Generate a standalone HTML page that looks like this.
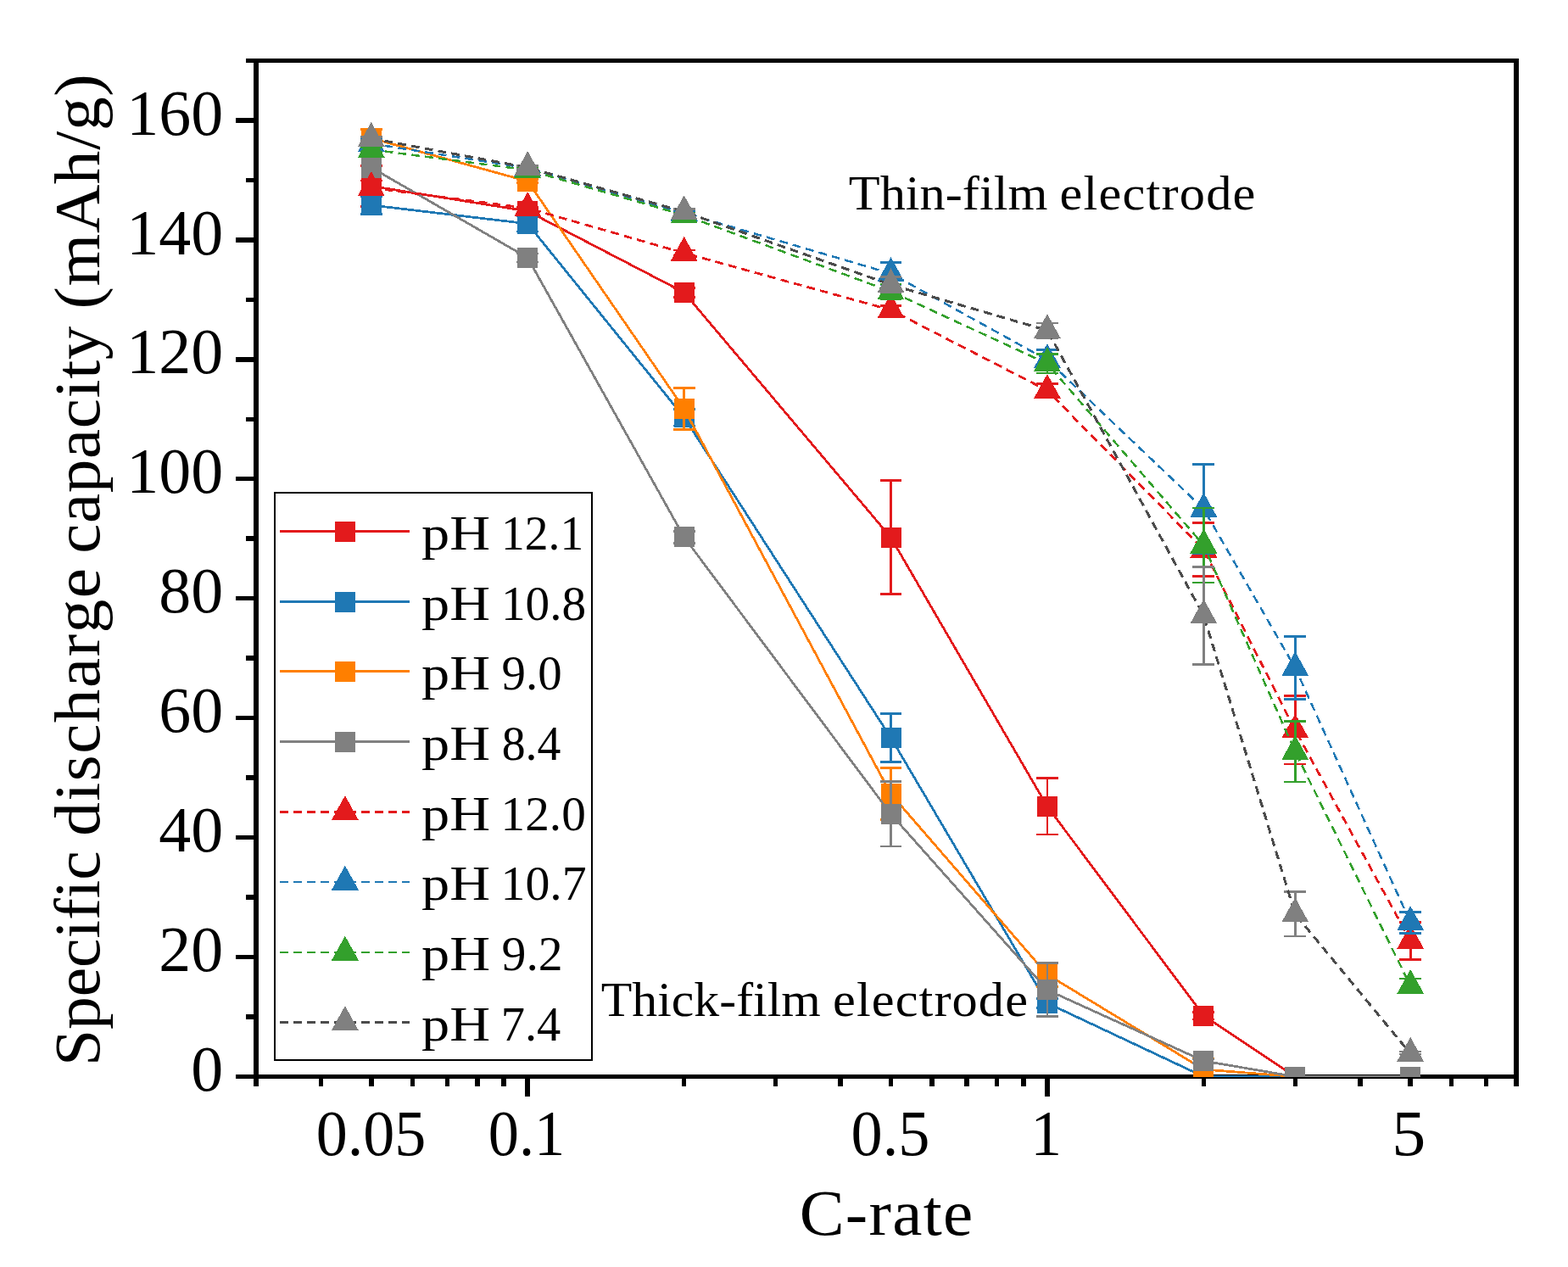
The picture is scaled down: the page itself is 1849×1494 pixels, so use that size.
<!DOCTYPE html>
<html lang="en"><head><meta charset="utf-8"><title>Specific discharge capacity vs C-rate</title>
<style>html,body{margin:0;padding:0;background:#fff}body{width:1849px;height:1494px;overflow:hidden}</style></head>
<body>
<svg width="1849" height="1494" viewBox="0 0 1849 1494" font-family="'Liberation Serif', 'DejaVu Serif', serif" fill="#000" style="display:block;font-kerning:none;font-variant-ligatures:none">
<rect width="1849" height="1494" fill="#fff"/>
<defs><clipPath id="pc"><rect x="301.87" y="71.40" width="1486.40" height="1198.60"/></clipPath></defs>
<g stroke="#000" stroke-width="5.5" fill="none" stroke-linecap="butt" shape-rendering="crispEdges">
<path d="M289.77 71.40H1791.27M277.97 1269.50H1791.27" stroke-width="5"/>
<path d="M301.87 68.90V1280.90M1788.27 68.90V1280.90" stroke-width="6"/>
<path d="M301.87 1199.02h-12.10M301.87 1128.55h-23.90M301.87 1058.07h-12.10M301.87 987.59h-23.90M301.87 917.12h-12.10M301.87 846.64h-23.90M301.87 776.16h-12.10M301.87 705.69h-23.90M301.87 635.21h-12.10M301.87 564.74h-23.90M301.87 494.26h-12.10M301.87 423.78h-23.90M301.87 353.31h-12.10M301.87 282.83h-23.90M301.87 212.35h-12.10M301.87 141.88h-23.90M378.42 1269.50v11.40M437.80 1269.50v11.40M486.31 1269.50v11.40M527.33 1269.50v11.40M562.86 1269.50v11.40M594.20 1269.50v11.40M622.24 1269.50v23.20M806.68 1269.50v11.40M914.57 1269.50v11.40M991.12 1269.50v11.40M1050.50 1269.50v11.40M1099.02 1269.50v11.40M1140.03 1269.50v11.40M1175.57 1269.50v11.40M1206.91 1269.50v11.40M1234.94 1269.50v23.20M1419.39 1269.50v11.40M1527.28 1269.50v11.40M1603.83 1269.50v11.40M1663.20 1269.50v11.40M1711.72 1269.50v11.40M1752.74 1269.50v11.40"/>
</g>
<g clip-path="url(#pc)" shape-rendering="crispEdges">
<g>
<path d="M437.80 243.36V195.44M424.90 243.36h25.8M424.90 195.44h25.8M622.24 253.93V244.07M609.34 253.93h25.8M609.34 244.07h25.8M806.68 350.49V339.21M793.78 350.49h25.8M793.78 339.21h25.8M1050.50 700.75V566.85M1037.60 700.75h25.8M1037.60 566.85h25.8M1234.94 984.07V917.82M1222.04 984.07h25.8M1222.04 917.82h25.8M1419.39 1201.98V1193.24M1406.49 1201.98h25.8M1406.49 1193.24h25.8" stroke="#E31A1C" stroke-width="2.8" fill="none"/>
<polyline points="437.80,219.40 622.24,249.00 806.68,344.85 1050.50,633.80 1234.94,950.95 1419.39,1197.61 1527.28,1269.50 1663.20,1269.50" stroke="#E31A1C" stroke-width="2.75" fill="none" stroke-linejoin="round"/>
<rect x="425.80" y="207.40" width="24" height="24" fill="#E31A1C"/>
<rect x="610.24" y="237.00" width="24" height="24" fill="#E31A1C"/>
<rect x="794.68" y="332.85" width="24" height="24" fill="#E31A1C"/>
<rect x="1038.50" y="621.80" width="24" height="24" fill="#E31A1C"/>
<rect x="1222.94" y="938.95" width="24" height="24" fill="#E31A1C"/>
<rect x="1407.39" y="1185.61" width="24" height="24" fill="#E31A1C"/>
<rect x="1515.28" y="1257.50" width="24" height="24" fill="#E31A1C"/>
<rect x="1651.20" y="1257.50" width="24" height="24" fill="#E31A1C"/>
</g>
<g>
<path d="M437.80 252.17V231.73M424.90 252.17h25.8M424.90 231.73h25.8M622.24 272.96V254.64M609.34 272.96h25.8M609.34 254.64h25.8M806.68 502.01V482.28M793.78 502.01h25.8M793.78 482.28h25.8M1050.50 898.30V841.50M1037.60 898.30h25.8M1037.60 841.50h25.8M1234.94 1188.10V1177.53M1222.04 1188.10h25.8M1222.04 1177.53h25.8" stroke="#1F78B4" stroke-width="2.8" fill="none"/>
<polyline points="437.80,241.95 622.24,263.80 806.68,492.14 1050.50,869.90 1234.94,1182.81 1419.39,1269.50 1527.28,1269.50 1663.20,1269.50" stroke="#1F78B4" stroke-width="2.75" fill="none" stroke-linejoin="round"/>
<rect x="425.80" y="229.95" width="24" height="24" fill="#1F78B4"/>
<rect x="610.24" y="251.80" width="24" height="24" fill="#1F78B4"/>
<rect x="794.68" y="480.14" width="24" height="24" fill="#1F78B4"/>
<rect x="1038.50" y="857.90" width="24" height="24" fill="#1F78B4"/>
<rect x="1222.94" y="1170.81" width="24" height="24" fill="#1F78B4"/>
<rect x="1407.39" y="1257.50" width="24" height="24" fill="#1F78B4"/>
<rect x="1515.28" y="1257.50" width="24" height="24" fill="#1F78B4"/>
<rect x="1651.20" y="1257.50" width="24" height="24" fill="#1F78B4"/>
</g>
<g>
<path d="M437.80 173.59V152.45M424.90 173.59h25.8M424.90 152.45h25.8M622.24 215.88V211.65M609.34 215.88h25.8M609.34 211.65h25.8M806.68 506.87V457.12M793.78 506.87h25.8M793.78 457.12h25.8M1050.50 966.45V905.84M1037.60 966.45h25.8M1037.60 905.84h25.8M1234.94 1163.22V1135.03M1222.04 1163.22h25.8M1222.04 1135.03h25.8M1419.39 1274.08V1248.00M1406.49 1274.08h25.8M1406.49 1248.00h25.8" stroke="#FF7F00" stroke-width="2.8" fill="none"/>
<polyline points="437.80,163.02 622.24,213.76 806.68,482.00 1050.50,936.15 1234.94,1149.13 1419.39,1261.04 1527.28,1269.50 1663.20,1269.50" stroke="#FF7F00" stroke-width="2.75" fill="none" stroke-linejoin="round"/>
<rect x="425.80" y="151.02" width="24" height="24" fill="#FF7F00"/>
<rect x="610.24" y="201.76" width="24" height="24" fill="#FF7F00"/>
<rect x="794.68" y="470.00" width="24" height="24" fill="#FF7F00"/>
<rect x="1038.50" y="924.15" width="24" height="24" fill="#FF7F00"/>
<rect x="1222.94" y="1137.13" width="24" height="24" fill="#FF7F00"/>
<rect x="1407.39" y="1249.04" width="24" height="24" fill="#FF7F00"/>
<rect x="1515.28" y="1257.50" width="24" height="24" fill="#FF7F00"/>
<rect x="1651.20" y="1257.50" width="24" height="24" fill="#FF7F00"/>
</g>
<g>
<path d="M622.24 309.05V298.90M609.34 309.05h25.8M609.34 298.90h25.8M806.68 640.15V626.47M793.78 640.15h25.8M793.78 626.47h25.8M1050.50 997.95V921.84M1037.60 997.95h25.8M1037.60 921.84h25.8M1234.94 1198.88V1135.88M1222.04 1198.88h25.8M1222.04 1135.88h25.8M1419.39 1253.15V1248.92M1406.49 1253.15h25.8M1406.49 1248.92h25.8" stroke="#808080" stroke-width="2.8" fill="none"/>
<polyline points="437.80,197.55 622.24,303.97 806.68,633.31 1050.50,959.90 1234.94,1167.38 1419.39,1251.04 1527.28,1269.50 1663.20,1269.50" stroke="#808080" stroke-width="2.75" fill="none" stroke-linejoin="round"/>
<rect x="425.80" y="185.55" width="24" height="24" fill="#808080"/>
<rect x="610.24" y="291.97" width="24" height="24" fill="#808080"/>
<rect x="794.68" y="621.31" width="24" height="24" fill="#808080"/>
<rect x="1038.50" y="947.90" width="24" height="24" fill="#808080"/>
<rect x="1222.94" y="1155.38" width="24" height="24" fill="#808080"/>
<rect x="1407.39" y="1239.04" width="24" height="24" fill="#808080"/>
<rect x="1515.28" y="1257.50" width="24" height="24" fill="#808080"/>
<rect x="1651.20" y="1257.50" width="24" height="24" fill="#808080"/>
</g>
<g>
<path d="M437.80 229.97V213.06M424.90 229.97h25.8M424.90 213.06h25.8M622.24 246.89V244.07M609.34 246.89h25.8M609.34 244.07h25.8M806.68 301.72V294.95M793.78 301.72h25.8M793.78 294.95h25.8M1050.50 370.50V360.64M1037.60 370.50h25.8M1037.60 360.64h25.8M1234.94 468.18V452.68M1222.04 468.18h25.8M1222.04 452.68h25.8M1419.39 679.68V616.54M1406.49 679.68h25.8M1406.49 616.54h25.8M1527.28 901.05V820.71M1514.38 901.05h25.8M1514.38 820.71h25.8M1663.20 1131.37V1087.25M1650.30 1131.37h25.8M1650.30 1087.25h25.8" stroke="#E31A1C" stroke-width="2.8" fill="none"/>
<polyline points="437.80,221.51 622.24,245.48 806.68,298.33 1050.50,365.57 1234.94,460.43 1419.39,648.11 1527.28,860.88 1663.20,1109.31" stroke="#E31A1C" stroke-width="2.75" fill="none" stroke-linejoin="round" stroke-dasharray="9.8 6.2"/>
<path d="M437.80 202.11L453.80 231.11H421.80Z" fill="#E31A1C"/>
<path d="M622.24 226.08L638.24 255.08H606.24Z" fill="#E31A1C"/>
<path d="M806.68 278.93L822.68 307.93H790.68Z" fill="#E31A1C"/>
<path d="M1050.50 346.17L1066.50 375.17H1034.50Z" fill="#E31A1C"/>
<path d="M1234.94 441.03L1250.94 470.03H1218.94Z" fill="#E31A1C"/>
<path d="M1419.39 628.71L1435.39 657.71H1403.39Z" fill="#E31A1C"/>
<path d="M1527.28 841.48L1543.28 870.48H1511.28Z" fill="#E31A1C"/>
<path d="M1663.20 1089.91L1679.20 1118.91H1647.20Z" fill="#E31A1C"/>
</g>
<g>
<path d="M437.80 175.99V162.74M424.90 175.99h25.8M424.90 162.74h25.8M622.24 200.37V196.14M609.34 200.37h25.8M609.34 196.14h25.8M806.68 253.23V249.00M793.78 253.23h25.8M793.78 249.00h25.8M1050.50 335.48V309.54M1037.60 335.48h25.8M1037.60 309.54h25.8M1234.94 436.82V412.15M1222.04 436.82h25.8M1222.04 412.15h25.8M1419.39 653.04V547.33M1406.49 653.04h25.8M1406.49 547.33h25.8M1527.28 824.44V750.58M1514.38 824.44h25.8M1514.38 750.58h25.8M1663.20 1100.15V1075.20M1650.30 1100.15h25.8M1650.30 1075.20h25.8" stroke="#1F78B4" stroke-width="2.8" fill="none"/>
<polyline points="437.80,169.36 622.24,198.26 806.68,251.12 1050.50,322.51 1234.94,424.49 1419.39,600.18 1527.28,787.51 1663.20,1087.67" stroke="#1F78B4" stroke-width="2.5" fill="none" stroke-linejoin="round" stroke-dasharray="9.8 6.2"/>
<path d="M437.80 149.96L453.80 178.96H421.80Z" fill="#1F78B4"/>
<path d="M622.24 178.86L638.24 207.86H606.24Z" fill="#1F78B4"/>
<path d="M806.68 231.72L822.68 260.72H790.68Z" fill="#1F78B4"/>
<path d="M1050.50 303.11L1066.50 332.11H1034.50Z" fill="#1F78B4"/>
<path d="M1234.94 405.09L1250.94 434.09H1218.94Z" fill="#1F78B4"/>
<path d="M1419.39 580.78L1435.39 609.78H1403.39Z" fill="#1F78B4"/>
<path d="M1527.28 768.11L1543.28 797.11H1511.28Z" fill="#1F78B4"/>
<path d="M1663.20 1068.27L1679.20 1097.27H1647.20Z" fill="#1F78B4"/>
</g>
<g>
<path d="M437.80 179.23V173.59M424.90 179.23h25.8M424.90 173.59h25.8M622.24 202.49V198.26M609.34 202.49h25.8M609.34 198.26h25.8M806.68 255.77V251.54M793.78 255.77h25.8M793.78 251.54h25.8M1050.50 352.53V334.91M1037.60 352.53h25.8M1037.60 334.91h25.8M1234.94 439.99V417.44M1222.04 439.99h25.8M1222.04 417.44h25.8M1419.39 686.94V598.99M1406.49 686.94h25.8M1406.49 598.99h25.8M1527.28 921.91V850.87M1514.38 921.91h25.8M1514.38 850.87h25.8M1663.20 1170.83V1153.92M1650.30 1170.83h25.8M1650.30 1153.92h25.8" stroke="#33A02C" stroke-width="2.8" fill="none"/>
<polyline points="437.80,176.41 622.24,200.37 806.68,253.65 1050.50,343.72 1234.94,428.72 1419.39,642.96 1527.28,886.39 1663.20,1162.38" stroke="#33A02C" stroke-width="2.5" fill="none" stroke-linejoin="round" stroke-dasharray="9.8 6.2"/>
<path d="M437.80 157.01L453.80 186.01H421.80Z" fill="#33A02C"/>
<path d="M622.24 180.97L638.24 209.97H606.24Z" fill="#33A02C"/>
<path d="M806.68 234.25L822.68 263.25H790.68Z" fill="#33A02C"/>
<path d="M1050.50 324.32L1066.50 353.32H1034.50Z" fill="#33A02C"/>
<path d="M1234.94 409.32L1250.94 438.32H1218.94Z" fill="#33A02C"/>
<path d="M1419.39 623.56L1435.39 652.56H1403.39Z" fill="#33A02C"/>
<path d="M1527.28 866.99L1543.28 895.99H1511.28Z" fill="#33A02C"/>
<path d="M1663.20 1142.98L1679.20 1171.98H1647.20Z" fill="#33A02C"/>
</g>
<g>
<path d="M437.80 165.42V161.19M424.90 165.42h25.8M424.90 161.19h25.8M622.24 199.67V195.44M609.34 199.67h25.8M609.34 195.44h25.8M806.68 252.88V246.53M793.78 252.88h25.8M793.78 246.53h25.8M1050.50 344.85V326.52M1037.60 344.85h25.8M1037.60 326.52h25.8M1234.94 398.27V380.93M1222.04 398.27h25.8M1222.04 380.93h25.8M1419.39 783.28V668.27M1406.49 783.28h25.8M1406.49 668.27h25.8M1527.28 1104.02V1051.59M1514.38 1104.02h25.8M1514.38 1051.59h25.8M1663.20 1243.00V1239.90M1650.30 1243.00h25.8M1650.30 1239.90h25.8" stroke="#808080" stroke-width="2.8" fill="none"/>
<polyline points="437.80,163.30 622.24,197.55 806.68,249.71 1050.50,335.69 1234.94,389.60 1419.39,725.77 1527.28,1077.80 1663.20,1242.30" stroke="#4B4B4B" stroke-width="3.0" fill="none" stroke-linejoin="round" stroke-dasharray="9.8 6.2"/>
<path d="M437.80 143.90L453.80 172.90H421.80Z" fill="#808080"/>
<path d="M622.24 178.15L638.24 207.15H606.24Z" fill="#808080"/>
<path d="M806.68 230.31L822.68 259.31H790.68Z" fill="#808080"/>
<path d="M1050.50 316.29L1066.50 345.29H1034.50Z" fill="#808080"/>
<path d="M1234.94 370.20L1250.94 399.20H1218.94Z" fill="#808080"/>
<path d="M1419.39 706.37L1435.39 735.37H1403.39Z" fill="#808080"/>
<path d="M1527.28 1058.40L1543.28 1087.40H1511.28Z" fill="#808080"/>
<path d="M1663.20 1222.90L1679.20 1251.90H1647.20Z" fill="#808080"/>
</g>
</g>
<g shape-rendering="crispEdges">
<rect x="324.0" y="581.0" width="373.80" height="669.00" fill="#fff" stroke="#000" stroke-width="2"/>
<path d="M330 626.50H483" stroke="#E31A1C" stroke-width="3" fill="none"/>
<rect x="394.90" y="614.50" width="24" height="24" fill="#E31A1C"/>
<path d="M330 709.50H483" stroke="#1F78B4" stroke-width="3" fill="none"/>
<rect x="394.90" y="697.50" width="24" height="24" fill="#1F78B4"/>
<path d="M330 791.50H483" stroke="#FF7F00" stroke-width="3" fill="none"/>
<rect x="394.90" y="779.50" width="24" height="24" fill="#FF7F00"/>
<path d="M330 874.50H483" stroke="#808080" stroke-width="3" fill="none"/>
<rect x="394.90" y="862.50" width="24" height="24" fill="#808080"/>
<path d="M330 957.50H483" stroke="#E31A1C" stroke-width="3" fill="none" stroke-dasharray="9.8 6.2"/>
<path d="M406.90 938.10L422.90 967.10H390.90Z" fill="#E31A1C"/>
<path d="M330 1040.00H483" stroke="#1F78B4" stroke-width="2" fill="none" stroke-dasharray="9.8 6.2"/>
<path d="M406.90 1020.60L422.90 1049.60H390.90Z" fill="#1F78B4"/>
<path d="M330 1123.00H483" stroke="#33A02C" stroke-width="2" fill="none" stroke-dasharray="9.8 6.2"/>
<path d="M406.90 1103.60L422.90 1132.60H390.90Z" fill="#33A02C"/>
<path d="M330 1205.50H483" stroke="#4B4B4B" stroke-width="3" fill="none" stroke-dasharray="9.8 6.2"/>
<path d="M406.90 1186.10L422.90 1215.10H390.90Z" fill="#808080"/>
</g>
<text transform="scale(1.05 1)" y="647.90" font-size="58"><tspan x="473.36" textLength="77.15" lengthAdjust="spacingAndGlyphs">pH</tspan> <tspan x="562.97" textLength="92.49" lengthAdjust="spacingAndGlyphs">12.1</tspan></text>
<text transform="scale(1.05 1)" y="730.90" font-size="58"><tspan x="473.36" textLength="77.15" lengthAdjust="spacingAndGlyphs">pH</tspan> <tspan x="562.83" textLength="95.44" lengthAdjust="spacingAndGlyphs">10.8</tspan></text>
<text transform="scale(1.05 1)" y="812.90" font-size="58"><tspan x="473.36" textLength="77.15" lengthAdjust="spacingAndGlyphs">pH</tspan> <tspan x="563.40" textLength="67.71" lengthAdjust="spacingAndGlyphs">9.0</tspan></text>
<text transform="scale(1.05 1)" y="895.90" font-size="58"><tspan x="473.36" textLength="77.15" lengthAdjust="spacingAndGlyphs">pH</tspan> <tspan x="563.50" textLength="66.38" lengthAdjust="spacingAndGlyphs">8.4</tspan></text>
<text transform="scale(1.05 1)" y="978.90" font-size="58"><tspan x="473.36" textLength="77.15" lengthAdjust="spacingAndGlyphs">pH</tspan> <tspan x="562.44" textLength="95.44" lengthAdjust="spacingAndGlyphs">12.0</tspan></text>
<text transform="scale(1.05 1)" y="1061.40" font-size="58"><tspan x="473.36" textLength="77.15" lengthAdjust="spacingAndGlyphs">pH</tspan> <tspan x="562.40" textLength="96.43" lengthAdjust="spacingAndGlyphs">10.7</tspan></text>
<text transform="scale(1.05 1)" y="1144.40" font-size="58"><tspan x="473.36" textLength="77.15" lengthAdjust="spacingAndGlyphs">pH</tspan> <tspan x="563.37" textLength="68.71" lengthAdjust="spacingAndGlyphs">9.2</tspan></text>
<text transform="scale(1.05 1)" y="1226.90" font-size="58"><tspan x="473.36" textLength="77.15" lengthAdjust="spacingAndGlyphs">pH</tspan> <tspan x="562.64" textLength="67.24" lengthAdjust="spacingAndGlyphs">7.4</tspan></text>
<text transform="scale(1.05 1)" y="247.5" font-size="57.5"><tspan x="953.15" textLength="223.46" lengthAdjust="spacingAndGlyphs">Thin-film</tspan> <tspan x="1190.13" style="letter-spacing:1.135px">electrode</tspan></text>
<text transform="scale(1.05 1)" y="1198.0" font-size="57.5"><tspan x="675.07" textLength="246.68" lengthAdjust="spacingAndGlyphs">Thick-film</tspan> <tspan x="935.28" style="letter-spacing:1.040px">electrode</tspan></text>
<g font-size="76.8">
<text x="225.14" y="1286.20" textLength="37.95" lengthAdjust="spacingAndGlyphs">0</text>
<text x="187.19" y="1145.25" textLength="75.90" lengthAdjust="spacingAndGlyphs">20</text>
<text x="187.19" y="1004.29" textLength="75.90" lengthAdjust="spacingAndGlyphs">40</text>
<text x="187.19" y="863.34" textLength="75.90" lengthAdjust="spacingAndGlyphs">60</text>
<text x="187.19" y="722.39" textLength="75.90" lengthAdjust="spacingAndGlyphs">80</text>
<text x="149.24" y="581.44" textLength="113.85" lengthAdjust="spacingAndGlyphs">100</text>
<text x="149.24" y="440.48" textLength="113.85" lengthAdjust="spacingAndGlyphs">120</text>
<text x="149.24" y="299.53" textLength="113.85" lengthAdjust="spacingAndGlyphs">140</text>
<text x="149.24" y="158.58" textLength="113.85" lengthAdjust="spacingAndGlyphs">160</text>
<text x="372.73" y="1362.0" textLength="129.67" lengthAdjust="spacingAndGlyphs">0.05</text>
<text x="575.74" y="1362.0" textLength="90.51" lengthAdjust="spacingAndGlyphs">0.1</text>
<text x="1003.57" y="1362.0" textLength="92.94" lengthAdjust="spacingAndGlyphs">0.5</text>
<text x="1215.23" y="1362.0" textLength="36.78" lengthAdjust="spacingAndGlyphs">1</text>
<text x="1641.26" y="1362.0" textLength="39.97" lengthAdjust="spacingAndGlyphs">5</text>
</g>
<text transform="scale(1.05 1)" y="1456.4" font-size="75.5"><tspan x="897.76" style="letter-spacing:1.244px">C-rate</tspan></text>
<text transform="translate(117.4 0) rotate(-90) scale(1.05 1)" font-size="75.5" y="0"><tspan x="-1197.22" textLength="241.68" lengthAdjust="spacingAndGlyphs">Specific</tspan> <tspan x="-938.92" style="letter-spacing:1.425px">discharge</tspan> <tspan x="-621.64" style="letter-spacing:0.552px">capacity</tspan> <tspan x="-347.22" style="letter-spacing:0.676px">(mAh/g)</tspan></text>
</svg>
</body></html>
